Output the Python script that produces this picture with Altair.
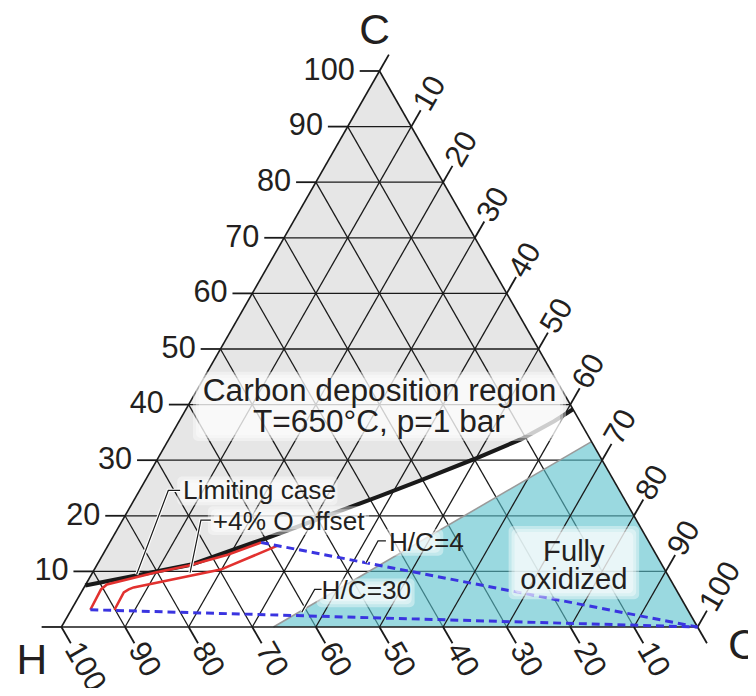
import altair as alt
import pandas as pd

# ---------------- data (ternary compositions in %, H = 100 - C - O) ----------------
# carbon deposition boundary (T=650 C, p=1 bar)
curve_C = [7.47, 9.34, 11.21, 13.52, 15.84, 17.97, 20.64, 23.49, 26.51, 30.25, 33.81, 37.01, 39.15]
curve_O = [0.0, 7.46, 14.77, 19.37, 23.96, 28.02, 32.91, 38.18, 43.51, 49.89, 55.42, 58.94, 60.85]

# red path: limiting case
limit_C = [3.1, 6.76, 7.65, 9.79, 11.03, 12.99, 15.2]
limit_O = [3.0, 2.84, 3.32, 9.88, 14.39, 19.64, 23.8]

# red path: +4 % O offset
offset_C = [3.1, 6.23, 6.76, 7.12, 10.32, 14.59]
offset_O = [6.8, 6.69, 7.20, 7.79, 19.88, 26.60]

# fully oxidized region (O = 2C + H/2 boundary down to O vertex)
oxid_C = [0.0, 33.33, 0.0]
oxid_O = [33.33, 66.67, 100.0]

# H/C ratio lines from the O corner
hc_names = ["H/C=4", "H/C=30"]
hc_C = [15.2, 3.1]
hc_O = [23.8, 3.0]

tick_values = [0, 10, 20, 30, 40, 50, 60, 70, 80, 90, 100]
grid_values = [10, 20, 30, 40, 50, 60, 70, 80, 90]

# annotation texts: (text, C, O, font size)
center_texts = ["Carbon deposition region", "T=650\u00b0C, p=1 bar", "Fully", "oxidized"]
center_C = [40.57, 35.05, 11.92, 6.76]
center_O = [29.72, 32.39, 74.60, 77.18]
center_size = [32, 32, 29.5, 29.5]

left_texts = ["Limiting case", "+4% O offset", "H/C=4", "H/C=30"]
left_C = [22.95, 17.44, 13.70, 4.98]
left_O = [7.65, 15.07, 44.63, 38.41]
left_size = [26.5, 26.5, 26.5, 26.5]

# leader lines (C, O) polylines
leader_id = [0, 0, 0, 1, 1, 1, 2, 2, 2, 3, 3, 3]
leader_C = [24.56, 24.56, 9.43, 19.22, 19.22, 9.79, 15.48, 15.48, 11.57, 6.76, 6.76, 2.67]
leader_O = [6.38, 4.52, 7.10, 13.87, 12.32, 15.33, 43.27, 42.03, 42.12, 37.52, 36.43, 36.46]

# glow boxes behind annotations, in plot-plane units (u = O + C/2, v = C)
box_u0 = [0.2068, 0.1820, 0.2302, 0.5054, 0.4012, 0.7030]
box_u1 = [0.7932, 0.4339, 0.4837, 0.6003, 0.5552, 0.9082]
box_v0 = [0.3345, 0.2189, 0.1655, 0.1281, 0.0356, 0.0498]
box_v1 = [0.4591, 0.2705, 0.2171, 0.1762, 0.0872, 0.1815]

# ---------------- layout ----------------
W, HGT = 748, 680
XDOM = [-0.08398, 1.07932]
YDOM = [-0.10320, 1.10676]
PXU = W / (XDOM[1] - XDOM[0])
PXV = HGT / (YDOM[1] - YDOM[0])
FONT = "Liberation Sans"
TXT = "#231f20"
TICK_FS = 31


def uv(C, O):
    return (O + C / 2.0) / 100.0, C / 100.0


xs = alt.Scale(domain=XDOM, nice=False, zero=False)
ys = alt.Scale(domain=YDOM, nice=False, zero=False)


def X(f="x"):
    return alt.X(f + ":Q", scale=xs, axis=None)


def Y(f="y"):
    return alt.Y(f + ":Q", scale=ys, axis=None)


def seg_df(rows):
    out = []
    for (c1, o1, c2, o2) in rows:
        x1, y1 = uv(c1, o1)
        x2, y2 = uv(c2, o2)
        out.append(dict(x=x1, y=y1, x2=x2, y2=y2))
    return pd.DataFrame(out)


def path_df(Cs, Os, gid=0):
    rows = []
    for i, (c, o) in enumerate(zip(Cs, Os)):
        x, y = uv(c, o)
        rows.append(dict(x=x, y=y, i=i, g=gid))
    return pd.DataFrame(rows)


# gray carbon deposition region (horizontal area between left edge and boundary)
gray_rows = []
for c, o in zip(curve_C, curve_O):
    xr, v = uv(c, o)
    xl, _ = uv(c, 0)
    gray_rows.append(dict(v=v, xl=xl, xr=xr))
ax, ay = uv(100, 0)
gray_rows.append(dict(v=ay, xl=ax, xr=ax))
gray_df = pd.DataFrame(gray_rows)

gray_layer = alt.Chart(gray_df).mark_area(orient="horizontal", color="#e6e6e6").encode(
    y=Y("v"), x=X("xl"), x2="xr")

# cyan region
ox_rows = []
for c, o in zip(oxid_C, oxid_O):
    x, y = uv(c, o)
    ox_rows.append(dict(x=x, y=y, y0=0.0))
ox_df = pd.DataFrame(ox_rows)
cyan_layer = alt.Chart(ox_df).mark_area(orient="vertical", color="#56c0cc", opacity=0.6).encode(
    x=X(), y=Y(), y2="y0")
cyan_edge = alt.Chart(seg_df([(oxid_C[0], oxid_O[0], oxid_C[1], oxid_O[1])])).mark_rule(
    color="#9a9a9a", strokeWidth=1.6).encode(x=X(), y=Y(), x2="x2", y2="y2")

# grid lines
gridC = seg_df([(k, 0, k, 100 - k) for k in grid_values])
gridH = seg_df([(0, 100 - k, 100 - k, 0) for k in grid_values])
gridO = seg_df([(0, k, 100 - k, k) for k in grid_values])
edges = seg_df([(0, 0, 0, 100), (0, 100, 100, 0), (100, 0, 0, 0)])


def rules(df, color="#1a1a1a", w=1.3):
    return alt.Chart(df).mark_rule(color=color, strokeWidth=w).encode(
        x=X(), y=Y(), x2="x2", y2="y2")


# ticks
tC, tH, tO = [], [], []
labC, labH, labO = [], [], []
for t in tick_values:
    x, y = uv(t, 0)  # left edge, C = t
    tC.append(dict(x=x, y=y, x2=x - 20 / PXU, y2=y))
    if t > 0:
        labC.append(dict(x=x - 25 / PXU, y=y, t=str(t)))
    x, y = uv(0, 100 - t)  # bottom edge, H = t
    ex, ey = x + 9.5 / PXU, y - 16.5 / PXV
    tH.append(dict(x=x, y=y, x2=ex, y2=ey))
    if t > 0:
        labH.append(dict(x=ex + 1.0 / PXU, y=ey - 1.7 / PXV, t=str(t)))
    x, y = uv(100 - t, t)  # right edge, O = t
    ex, ey = x + 9.5 / PXU, y + 16.5 / PXV
    tO.append(dict(x=x, y=y, x2=ex, y2=ey))
    if t > 0:
        labO.append(dict(x=ex + 1.0 / PXU, y=ey + 1.7 / PXV, t=str(t)))

ticks = rules(pd.DataFrame(tC + tH + tO), w=1.8)
labC_layer = alt.Chart(pd.DataFrame(labC)).mark_text(
    align="right", baseline="middle", font=FONT, fontSize=TICK_FS, color=TXT).encode(
    x=X(), y=Y(), text="t:N")
labH_layer = alt.Chart(pd.DataFrame(labH)).mark_text(
    align="left", baseline="middle", angle=60, font=FONT, fontSize=TICK_FS, color=TXT).encode(
    x=X(), y=Y(), text="t:N")
labO_layer = alt.Chart(pd.DataFrame(labO)).mark_text(
    align="left", baseline="middle", angle=300, font=FONT, fontSize=TICK_FS, color=TXT).encode(
    x=X(), y=Y(), text="t:N")

# axis titles at the vertices
title_C = alt.Chart(pd.DataFrame([dict(x=uv(100, 0)[0], y=uv(100, 0)[1], t="C")])).mark_text(
    align="center", baseline="alphabetic", dx=-5, dy=-27, font=FONT, fontSize=43, color=TXT).encode(
    x=X(), y=Y(), text="t:N")
title_H = alt.Chart(pd.DataFrame([dict(x=uv(0, 0)[0], y=uv(0, 0)[1], t="H")])).mark_text(
    align="center", baseline="alphabetic", dx=-30, dy=48, font=FONT, fontSize=43, color=TXT).encode(
    x=X(), y=Y(), text="t:N")
title_O = alt.Chart(pd.DataFrame([dict(x=uv(0, 100)[0], y=uv(0, 100)[1], t="O")])).mark_text(
    align="left", baseline="alphabetic", dx=31, dy=32, font=FONT, fontSize=43, color=TXT).encode(
    x=X(), y=Y(), text="t:N")

# curves
curve_layer = alt.Chart(path_df(curve_C, curve_O)).mark_line(
    color="#1a1a1a", strokeWidth=4.2).encode(x=X(), y=Y(), order="i:Q")
red_df = pd.concat([path_df(limit_C, limit_O, 0), path_df(offset_C, offset_O, 1)])
red_layer = alt.Chart(red_df).mark_line(color="#e2312f", strokeWidth=2.6).encode(
    x=X(), y=Y(), order="i:Q", detail="g:N")
blue_df = seg_df([(c, o, 0, 100) for c, o in zip(hc_C, hc_O)])
blue_layer = alt.Chart(blue_df).mark_rule(
    color="#3a34e0", strokeWidth=3, strokeDash=[8, 5]).encode(x=X(), y=Y(), x2="x2", y2="y2")

# glow boxes
box_df = pd.DataFrame(dict(u0=box_u0, u1=box_u1, v0=box_v0, v1=box_v1))
glow = []
for k in range(3):
    glow.append(alt.Chart(box_df).mark_rect(
        color="white", opacity=0.4, cornerRadius=5,
        xOffset=3 * k, x2Offset=-3 * k, yOffset=3 * k, y2Offset=-3 * k).encode(
        x=X("u0"), x2="u1", y=Y("v1"), y2="v0"))

# leader lines
ld_rows = []
cnt = {}
for g, c, o in zip(leader_id, leader_C, leader_O):
    x, y = uv(c, o)
    cnt[g] = cnt.get(g, -1) + 1
    ld_rows.append(dict(x=x, y=y, g=g, i=cnt[g]))
ld_df = pd.DataFrame(ld_rows)
leader_white = alt.Chart(ld_df).mark_line(color="white", strokeWidth=3.4).encode(
    x=X(), y=Y(), order="i:Q", detail="g:N")
leader_black = alt.Chart(ld_df).mark_line(color="#1a1a1a", strokeWidth=1.2).encode(
    x=X(), y=Y(), order="i:Q", detail="g:N")

# annotation texts
ct_rows = []
for t, c, o, s in zip(center_texts, center_C, center_O, center_size):
    x, y = uv(c, o)
    ct_rows.append(dict(x=x, y=y, t=t, s=s))
lt_rows = []
for t, c, o, s in zip(left_texts, left_C, left_O, left_size):
    x, y = uv(c, o)
    lt_rows.append(dict(x=x, y=y, t=t, s=s))
ct_layer = alt.Chart(pd.DataFrame(ct_rows)).mark_text(
    align="center", baseline="alphabetic", font=FONT, color=TXT).encode(
    x=X(), y=Y(), text="t:N", size=alt.Size("s:Q", scale=None, legend=None))
lt_layer = alt.Chart(pd.DataFrame(lt_rows)).mark_text(
    align="left", baseline="alphabetic", font=FONT, color=TXT).encode(
    x=X(), y=Y(), text="t:N", size=alt.Size("s:Q", scale=None, legend=None))

chart = alt.layer(
    gray_layer,
    rules(gridC), rules(gridH),
    cyan_layer,
    rules(gridO),
    cyan_edge,
    rules(edges, w=1.6),
    ticks,
    curve_layer, red_layer, blue_layer,
    *glow,
    leader_white, leader_black,
    ct_layer, lt_layer,
    labC_layer, labH_layer, labO_layer,
    title_C, title_H, title_O,
).properties(
    width=W, height=HGT, padding=0, autosize=alt.AutoSizeParams(type="none")
).configure_view(stroke=None)

chart.save("out.html", embed_options={"renderer": "svg", "actions": False})
